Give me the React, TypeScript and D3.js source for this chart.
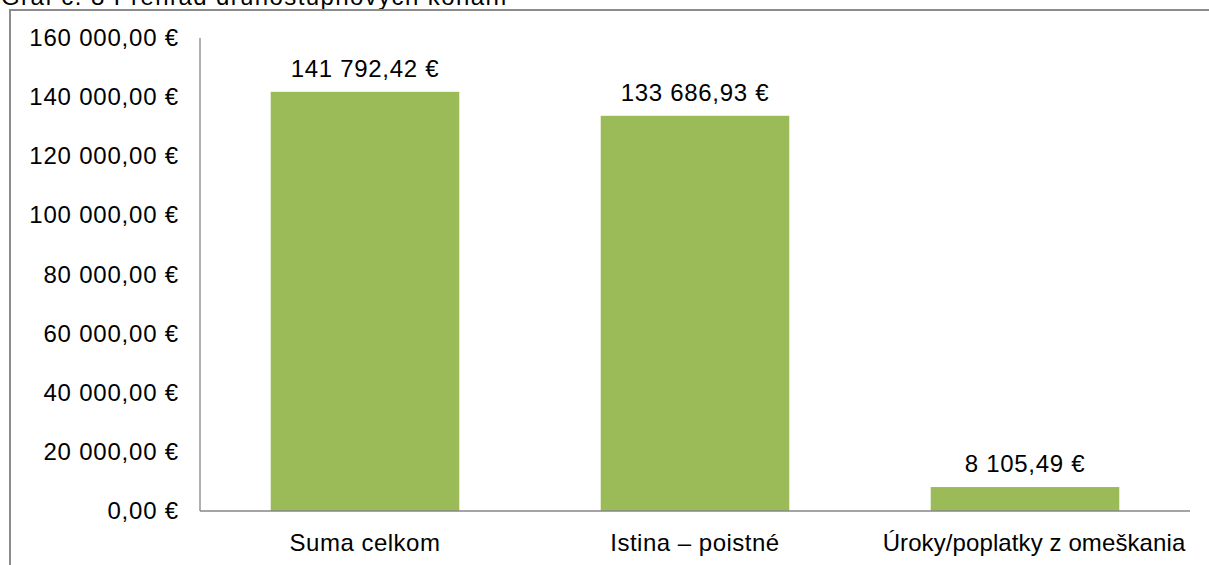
import React from 'react';
import * as d3 from 'd3';

const categories = ['Suma celkom', 'Istina – poistné', 'Úroky/poplatky z omeškania'];
const values = [141792.42, 133686.93, 8105.49];
const yTicks = [0, 20000, 40000, 60000, 80000, 100000, 120000, 140000, 160000];
const title = 'Graf č. 8 Prehľad druhostupňových konaní';

const width = 1209;
const height = 565;
const margin = { top: 38, right: 19, bottom: 54, left: 200 };
const font = '"Liberation Sans", Arial, sans-serif';

// 1 234,56 € style
const fmtEuro = (v: number) => {
  const [int, dec] = v.toFixed(2).split('.');
  return int.replace(/\B(?=(\d{3})+(?!\d))/g, ' ') + ',' + dec + ' €';
};

const App = () => {
  const x = d3
    .scaleBand<string>()
    .domain(categories)
    .range([margin.left, width - margin.right])
    .paddingInner(0.75 / 1.75)
    .paddingOuter(0.375 / 1.75);

  const y = d3
    .scaleLinear()
    .domain([0, 160000])
    .range([height - margin.bottom, margin.top]);

  const y0 = y(0);
  const cx = (c: string) => (x(c) ?? 0) + x.bandwidth() / 2;

  return (
    <svg
      width={width}
      height={height}
      style={{ position: 'absolute', left: 0, top: 0, display: 'block', background: '#fff' }}
      fontFamily={font}
    >
      <text x={1} y={5} fontSize={24} letterSpacing={1.4} fill="#000">
        {title}
      </text>
      <rect x={10} y={10} width={width + 20} height={height + 20} fill="none" stroke="#8c8c8c" strokeWidth={2} />

      {yTicks.map((t) => (
        <text key={t} x={179} y={y(t) + 8} fontSize={24} letterSpacing={0.8} textAnchor="end" fill="#000">
          {fmtEuro(t)}
        </text>
      ))}

      {values.map((v, i) => (
        <g key={categories[i]}>
          <rect
            x={x(categories[i])}
            y={y(v)}
            width={x.bandwidth()}
            height={y0 - y(v)}
            fill="#9bbb59"
          />
          <text
            x={cx(categories[i])}
            y={y(v) - 15}
            fontSize={24}
            letterSpacing={0.7}
            textAnchor="middle"
            fill="#000"
          >
            {fmtEuro(v)}
          </text>
          <text
            x={cx(categories[i]) + (i === 2 ? 9 : 0)}
            y={y0 + 40}
            fontSize={24}
            letterSpacing={i === 2 ? 0.1 : 0.5}
            textAnchor="middle"
            fill="#000"
          >
            {categories[i]}
          </text>
        </g>
      ))}

      <line x1={margin.left} x2={margin.left} y1={y(160000)} y2={y0} stroke="#868686" strokeWidth={1.3} />
      <line x1={margin.left} x2={width - margin.right} y1={y0} y2={y0} stroke="#868686" strokeWidth={1.3} />
    </svg>
  );
};

export default App;
